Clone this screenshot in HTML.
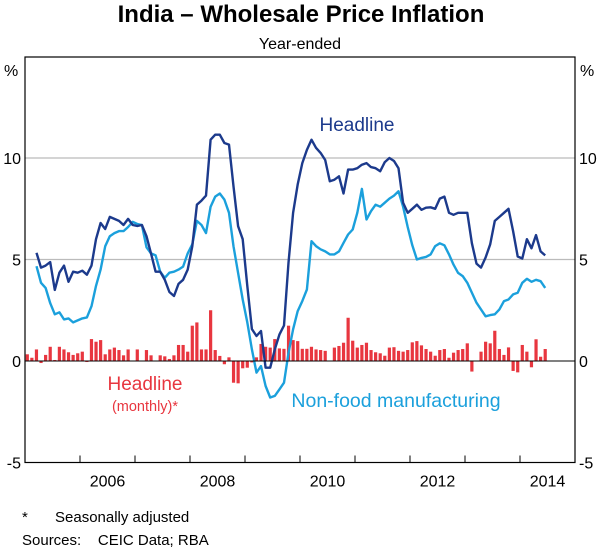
<!DOCTYPE html>
<html><head><meta charset="utf-8"><style>
body{margin:0;background:#fff;width:600px;height:549px;overflow:hidden;font-family:"Liberation Sans",Arial,sans-serif}
svg text{font-family:"Liberation Sans",Arial,sans-serif}
</style></head><body>
<svg id="chart" width="600" height="549" viewBox="0 0 600 549" xmlns="http://www.w3.org/2000/svg">
<text x="301" y="22" text-anchor="middle" font-size="24" font-weight="bold" fill="#000">India – Wholesale Price Inflation</text>
<text x="300" y="49" text-anchor="middle" font-size="16" fill="#000">Year-ended</text>
<text x="4" y="76" font-size="16" fill="#000">%</text>
<text x="580" y="76" font-size="16" fill="#000">%</text>
<g id="grid"></g>
<g id="bars"></g>
<g id="lines"></g>
<g id="axes"></g>
<text x="357" y="131" text-anchor="middle" font-size="19" fill="#1c3a8c">Headline</text>
<text x="396" y="407" text-anchor="middle" font-size="19.5" fill="#1ba0dc">Non-food manufacturing</text>
<text x="145" y="390" text-anchor="middle" font-size="19" fill="#e8363f">Headline</text>
<text x="145" y="411" text-anchor="middle" font-size="14.5" fill="#e8363f">(monthly)*</text>
<text x="22" y="522" font-size="15" fill="#000">*</text>
<text x="55" y="522" font-size="15" fill="#000">Seasonally adjusted</text>
<text x="22" y="545" font-size="15" fill="#000" xml:space="preserve">Sources:    CEIC Data; RBA</text>
</svg>
<script>
const yTicks=[-5,0,5,10];
const yTickLabels=["-5","0","5","10"];
const xYears=[2006,2008,2010,2012,2014];
const startYear=2005;
const barVals=[0.33,0.16,0.57,-0.1,0.3,0.7,0.05,0.7,0.57,0.43,0.3,0.38,0.46,-0.05,1.08,0.95,1.03,0.33,0.57,0.66,0.54,0.28,0.57,0.02,0.57,0.02,0.54,0.28,0.02,0.28,0.23,0.1,0.28,0.79,0.79,0.46,1.74,1.9,0.57,0.57,2.5,0.54,0.25,-0.16,0.18,-1.07,-1.1,-0.36,-0.33,-0.07,0.18,0.84,0.7,0.66,1.08,0.62,0.6,1.74,1.03,0.98,0.6,0.6,0.7,0.57,0.54,0.5,0.02,0.66,0.74,0.9,2.13,1.0,0.66,0.79,0.9,0.54,0.43,0.38,0.26,0.66,0.68,0.5,0.46,0.54,0.92,0.98,0.77,0.59,0.46,0.26,0.54,0.59,0.16,0.41,0.54,0.59,0.87,-0.52,0.02,0.46,0.95,0.87,1.49,0.59,0.3,0.67,-0.49,-0.56,0.79,0.46,-0.31,1.07,0.21,0.59];
const headStart=2;
const headVals=[5.33,4.6,4.7,4.87,3.5,4.35,4.7,3.9,4.4,4.35,4.45,4.25,4.7,6.0,6.8,6.5,7.1,7.0,6.9,6.7,7.0,6.7,6.65,6.7,6.15,5.3,4.4,4.4,4.0,3.4,3.2,3.8,4.0,4.5,5.65,7.7,7.9,8.15,10.9,11.15,11.15,10.74,10.66,8.6,6.64,6.0,3.7,1.57,1.23,1.48,-0.33,-0.33,0.57,1.3,1.75,4.84,7.3,8.7,9.75,10.4,10.9,10.5,10.25,9.9,8.85,8.93,9.1,8.25,9.43,9.43,9.5,9.67,9.75,9.55,9.5,9.35,9.8,10.0,9.85,9.5,7.8,7.3,7.5,7.7,7.45,7.55,7.57,7.5,8.0,8.1,7.3,7.2,7.3,7.3,7.3,5.8,4.8,4.6,5.1,5.75,6.9,7.1,7.3,7.5,6.4,5.15,5.05,6.0,5.55,6.2,5.4,5.2];
const nonfoodVals=[4.67,3.85,3.6,2.85,2.3,2.4,2.05,2.1,1.9,2.0,2.1,2.15,2.7,3.7,4.5,5.65,6.15,6.3,6.4,6.4,6.6,6.85,6.75,6.7,5.6,5.3,5.2,4.4,4.1,4.35,4.4,4.5,4.65,5.3,5.75,6.9,6.7,6.3,7.6,8.1,8.25,7.95,7.3,5.65,4.34,3.03,1.9,0.57,-0.57,-0.25,-1.23,-1.8,-1.72,-1.4,-1.07,0.4,1.56,2.46,2.95,3.52,5.9,5.66,5.5,5.4,5.25,5.25,5.4,5.82,6.23,6.48,7.3,8.48,6.97,7.38,7.7,7.6,7.8,8.0,8.15,8.36,7.6,6.6,5.7,5.0,5.08,5.13,5.25,5.66,5.8,5.7,5.25,4.75,4.34,4.18,3.85,3.36,2.87,2.54,2.2,2.26,2.3,2.54,2.95,3.03,3.28,3.36,3.85,4.05,3.9,4.0,3.93,3.6];

const L=25,R=575,T=57,B=462.5;
const yS=v=>361-v*20.3;
const monthX=i=>L+(i+0.5)*(R-L)/120;
const yearX=y=>L+(y-startYear)*(R-L)/10;
const NS="http://www.w3.org/2000/svg";
function mk(tag,attrs,parent){const e=document.createElementNS(NS,tag);for(const k in attrs)e.setAttribute(k,attrs[k]);parent.appendChild(e);return e;}
const grid=document.getElementById('grid'),bars=document.getElementById('bars'),lines=document.getElementById('lines'),axes=document.getElementById('axes');
yTicks.forEach((v,k)=>{
  if(v>0){const g=mk('line',{x1:L,x2:R,y1:yS(v),y2:yS(v),stroke:'#bbbbbb','stroke-width':1.2},grid);
  
  }
  const t1=mk('text',{x:L-4,y:yS(v)+6,'text-anchor':'end','font-size':16,fill:'#000'},axes);t1.textContent=yTickLabels[k];
  
  
  const t2=mk('text',{x:R+4,y:yS(v)+6,'font-size':16,fill:'#000'},axes);t2.textContent=yTickLabels[k];
  
  
});
barVals.forEach((v,i)=>{
  const y0=yS(0),y1=yS(v);
  const b=mk('rect',{x:monthX(i)-1.6,y:Math.min(y0,y1),width:3.2,height:Math.max(0.6,Math.abs(y1-y0)),fill:'#e8363f'},bars);
  
  
});
const zl=mk('line',{x1:L,x2:R,y1:yS(0),y2:yS(0),stroke:'#000','stroke-width':1},axes);


function path(vals,col,name){
  const d=vals.map((v,k)=>(k?'L':'M')+monthX(k+headStart).toFixed(1)+' '+yS(v).toFixed(1)).join(' ');
  const p=mk('path',{d:d,fill:'none',stroke:col,'stroke-width':2.4,'stroke-linejoin':'round'},lines);
  
  
}
path(nonfoodVals,'#1ba0dc','nonfood-line');
path(headVals,'#1c3a8c','headline-line');
const fr=mk('rect',{x:L,y:T,width:R-L,height:B-T,fill:'none',stroke:'#000','stroke-width':1.2},axes);


for(let y=2006;y<=2014;y++){
  const tk=mk('line',{x1:yearX(y),x2:yearX(y),y1:B,y2:B-7,stroke:'#000','stroke-width':1},axes);
  
  
}
xYears.forEach(y=>{
  const t=mk('text',{x:yearX(y+0.5),y:B+24,'text-anchor':'middle','font-size':16,fill:'#000'},axes);t.textContent=y;
  
  
});
</script>
</body></html>
